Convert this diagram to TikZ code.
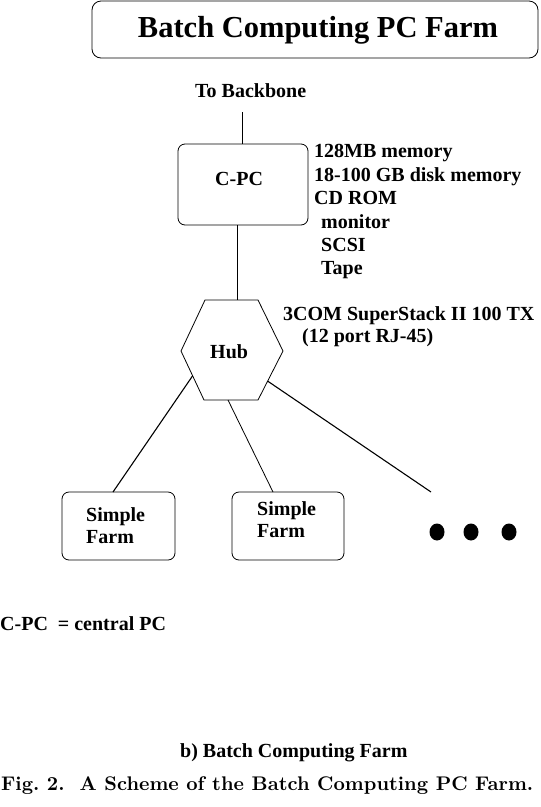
\documentclass[tikz,border=0pt]{standalone}
\usepackage{fontspec}
\usepackage{graphicx}
\newfontfamily\tnr{Liberation Serif}
\tikzset{
  lbl/.style={font=\tnr\bfseries\fontsize{20}{24}\selectfont, inner sep=0pt, anchor=base west},
  box/.style={draw, rounded corners=7pt, line width=0.8pt, inner sep=0pt},
  wire/.style={line width=0.8pt},
  thickwire/.style={line width=1.1pt},
}
\begin{document}
\begin{tikzpicture}[x=1pt,y=-1pt]
\useasboundingbox (0,0) rectangle (541,807);
% title
\node[box, rounded corners=9pt, minimum width=446pt, minimum height=57pt] (titlebox) at (315,29.5) {};
\node[font=\tnr\bfseries\fontsize{30.5}{36}\selectfont, inner sep=0pt, anchor=base] (title) at (318,37) {Batch Computing PC Farm};
% backbone
\node[lbl] (bb) at (195,97) {To Backbone};
\coordinate (bbtop) at (242,112);
% central PC
\node[box, minimum width=130pt, minimum height=81pt] (cpc) at (243,184.5) {};
\node[lbl] (cpct) at (215,185) {C-PC};
\draw[wire] (bbtop) -- (bbtop |- cpc.north);
\node[lbl] (l1) at (314,157) {128MB memory};
\node[lbl] (l2) at (314,181) {18-100 GB disk memory};
\node[lbl] (l3) at (314,204) {CD ROM};
\node[lbl] (l4) at (321,228) {monitor};
\node[lbl] (l5) at (321,251) {SCSI};
\node[lbl] (l6) at (321,274) {Tape};
% hub
\draw[wire] (205,300) -- (258,300) -- (283,351) -- (258,400) -- (204,400) -- (181,351) -- cycle;
\node[lbl] (hub) at (210,358) {Hub};
\coordinate (htop) at (237.5,300);
\coordinate (h1) at (192.5,376);
\coordinate (h2) at (228,400);
\coordinate (h3) at (267.5,381);
\draw[wire] (cpc.south -| htop) -- (htop);
\node[lbl] (hl1) at (283,320) {3COM SuperStack II 100 TX};
\node[lbl] (hl2) at (302,342) {(12 port RJ-45)};
% farms
\node[box, minimum width=113pt, minimum height=68pt] (f1) at (118.5,526) {};
\node[box, minimum width=112pt, minimum height=68pt] (f2) at (288,526) {};
\node[lbl] (f1a) at (86,521) {Simple};
\node[lbl] (f1b) at (86,543) {Farm};
\node[lbl] (f2a) at (257,515) {Simple};
\node[lbl] (f2b) at (257,537) {Farm};
\coordinate (f1t) at (113,492);
\coordinate (f2t) at (273,492);
\coordinate (more) at (431,492);
\draw[thickwire] (h1) -- (f1t);
\draw[wire] (h2) -- (f2t);
\draw[thickwire] (h3) -- (more);
% dots
\fill (437,532) ellipse [x radius=7.5pt, y radius=8.5pt];
\fill (471,532) ellipse [x radius=7.5pt, y radius=8.5pt];
\fill (509,532) ellipse [x radius=7.5pt, y radius=8.5pt];
% legend and captions
\node[lbl] (legend) at (0,630) {C-PC\ \ = central PC};
\node[lbl] (sub) at (180,757) {b) Batch Computing Farm};
\node[inner sep=0pt, anchor=base west] (cap) at (1,790) {\resizebox{532pt}{!}{\bfseries Fig.~2.\ \ A Scheme of the Batch Computing PC Farm.}};
\end{tikzpicture}
\end{document}
